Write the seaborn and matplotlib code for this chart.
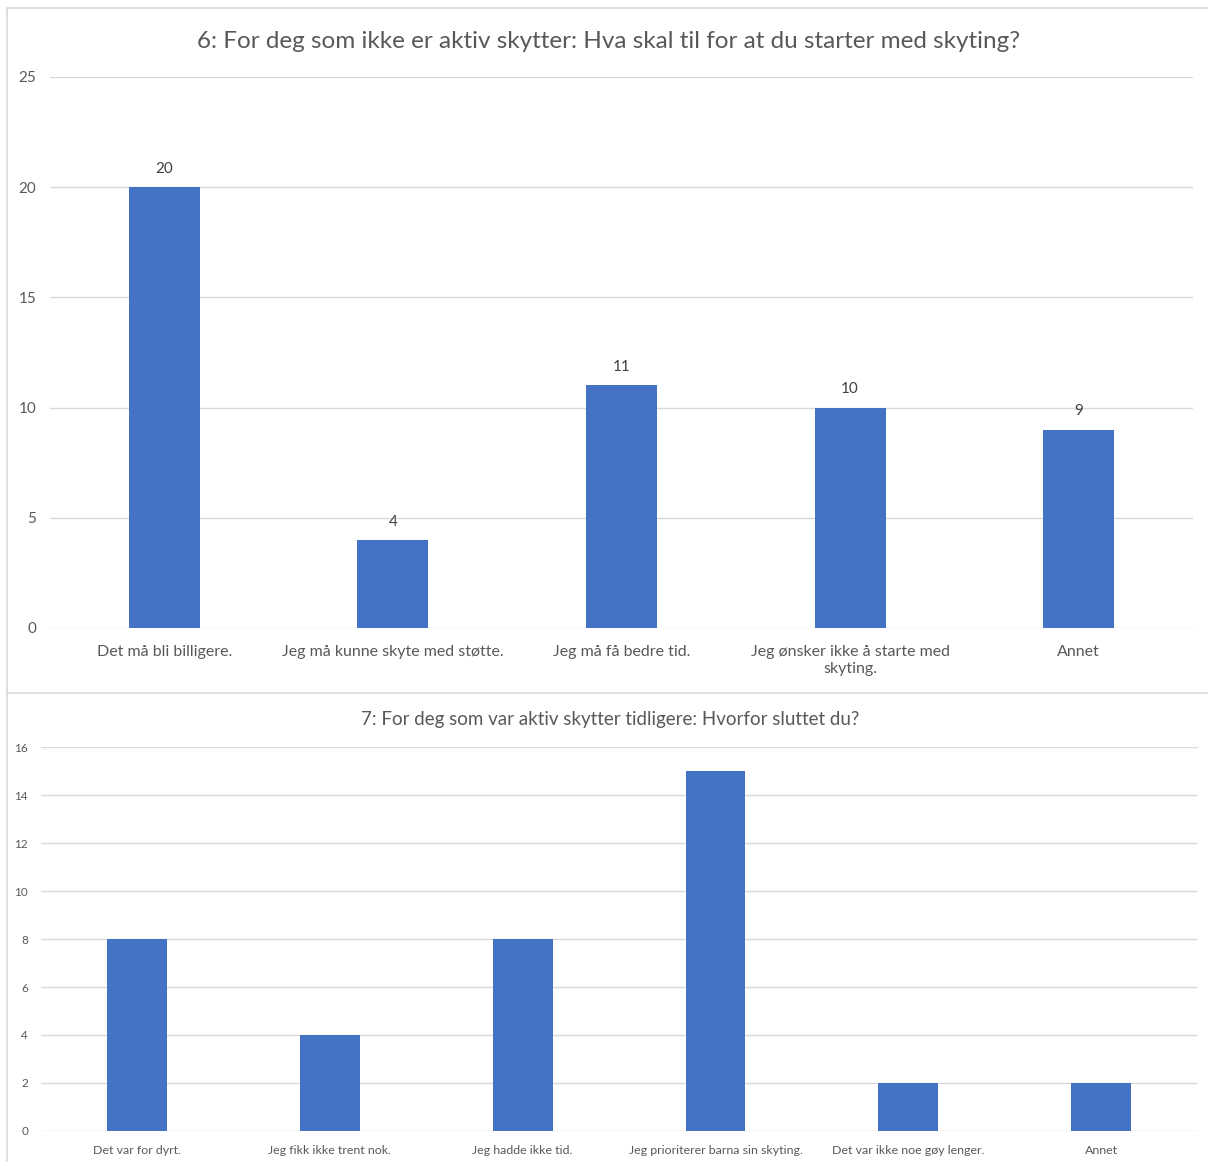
import matplotlib
matplotlib.use("Agg")
import matplotlib.pyplot as plt
import seaborn as sns
import pandas as pd
from matplotlib.lines import Line2D

# Data
q6_labels = ["Det må bli billigere.", "Jeg må kunne skyte med støtte.", "Jeg må få bedre tid.",
             "Jeg ønsker ikke å starte med\nskyting.", "Annet"]
q6_values = [20, 4, 11, 10, 9]
q6_title = "6: For deg som ikke er aktiv skytter: Hva skal til for at du starter med skyting?"

q7_labels = ["Det var for dyrt.", "Jeg fikk ikke trent nok.", "Jeg hadde ikke tid.",
             "Jeg prioriterer barna sin skyting.", "Det var ikke noe gøy lenger.", "Annet"]
q7_values = [8, 4, 8, 15, 2, 2]
q7_title = "7: For deg som var aktiv skytter tidligere: Hvorfor sluttet du?"

bar_color = "#4472C4"
grid_color = "#D9D9D9"
text_color = "#595959"

sns.set_theme(style="white")
plt.rcParams['font.family'] = ['Lato', 'DejaVu Sans']

fig = plt.figure(figsize=(12.08, 11.62), dpi=100)

# top chart
ax1 = fig.add_axes([0.0414, 0.4596, 0.9462, 0.4742])
df6 = pd.DataFrame({"label": q6_labels, "value": q6_values})
sns.barplot(data=df6, x="label", y="value", color=bar_color, width=0.31, saturation=1, ax=ax1)
ax1.set_ylim(0, 25)
ax1.set_yticks(range(0, 26, 5))
ax1.set_xlim(-0.5, len(q6_labels) - 0.5)
for i, v in enumerate(q6_values):
    ax1.annotate(str(v), (i, v), xytext=(0, 8), textcoords="offset points",
                 ha="center", va="bottom", fontsize=11, color="#404040")
ax1.set_title(q6_title, fontsize=17.5, color=text_color, pad=21, x=0.489)
ax1.tick_params(axis="y", labelsize=11, labelcolor=text_color, length=0, pad=10)
ax1.tick_params(axis="x", labelsize=11.5, labelcolor=text_color, length=0, pad=12)
for lbl in ax1.get_xticklabels():
    lbl.set_linespacing(1.35)

# bottom chart
ax2 = fig.add_axes([0.0336, 0.0267, 0.9578, 0.3304])
df7 = pd.DataFrame({"label": q7_labels, "value": q7_values})
sns.barplot(data=df7, x="label", y="value", color=bar_color, width=0.31, saturation=1, ax=ax2)
ax2.set_ylim(0, 16)
ax2.set_yticks(range(0, 17, 2))
ax2.set_xlim(-0.5, len(q7_labels) - 0.5)
ax2.set_title(q7_title, fontsize=13.5, color=text_color, pad=16, x=0.492)
ax2.tick_params(axis="y", labelsize=8.5, labelcolor=text_color, length=0, pad=9)
ax2.tick_params(axis="x", labelsize=8.9, labelcolor=text_color, length=0, pad=10)

for ax in (ax1, ax2):
    ax.set_xlabel("")
    ax.set_ylabel("")
    sns.despine(ax=ax, left=True, bottom=True)
    ax.yaxis.grid(True, color=grid_color, linewidth=1)
    ax.set_axisbelow(True)
    for p in ax.patches:
        p.set_edgecolor("none")

# chart frame lines
fig.add_artist(Line2D([7 / 1208, 7 / 1208], [0, 1 - 8 / 1162], color=grid_color, lw=1.2))
fig.add_artist(Line2D([7 / 1208, 1], [1 - 8 / 1162, 1 - 8 / 1162], color=grid_color, lw=1.2))
fig.add_artist(Line2D([7 / 1208, 1], [1 - 693 / 1162, 1 - 693 / 1162], color=grid_color, lw=1.2))

fig.savefig("out.png", dpi=100, facecolor="white")
